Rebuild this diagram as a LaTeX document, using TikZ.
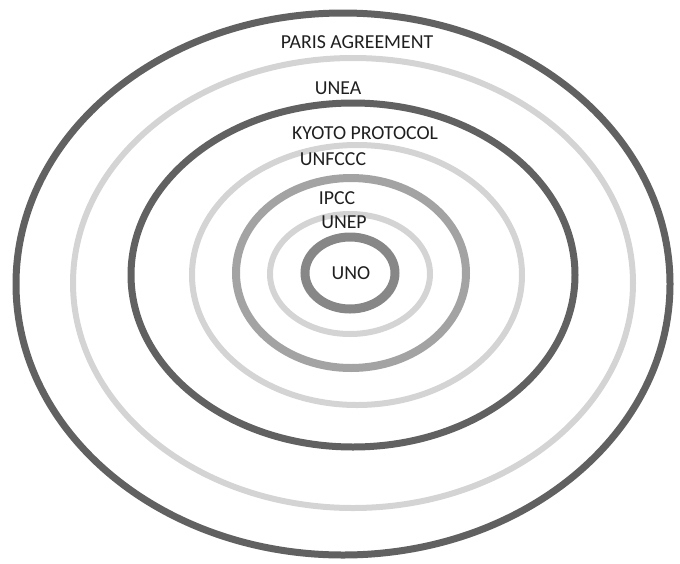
\documentclass[tikz,border=0pt]{standalone}
\usepackage{fontspec}
\setmainfont{Carlito}
\begin{document}
\begin{tikzpicture}[x=0.5pt,y=-0.5pt,
	darkring/.style={line width=3.5pt,draw=black!62},
	lightring/.style={line width=3pt,draw=black!17},
	midring/.style={line width=4pt,draw=black!36},
	unoring/.style={line width=4.5pt,draw=black!47},
	lbl/.style={font=\fontsize{9.9}{11}\selectfont,text=black!88,inner sep=0pt}]
	\useasboundingbox (0,0) rectangle (680,563);
		\draw[darkring] (343,284) ellipse [x radius=327, y radius=271];
		\draw[lightring] (353,283) ellipse [x radius=280, y radius=225];
		\draw[darkring] (353,275) ellipse [x radius=222, y radius=172];
		\draw[lightring] (357,275) ellipse [x radius=165, y radius=130];
		\draw[midring] (351,273) ellipse [x radius=115, y radius=95];
		\draw[lightring] (350,274) ellipse [x radius=80, y radius=60];
		\draw[unoring] (350,273) ellipse [x radius=45, y radius=36];
			\node[lbl] (paris) at (357,42) {PARIS AGREEMENT};
			\node[lbl] (unea) at (338,88) {UNEA};
			\node[lbl] (kyoto) at (365,133) {KYOTO PROTOCOL};
			\node[lbl] (unfccc) at (333,159) {UNFCCC};
			\node[lbl] (ipcc) at (337,198) {IPCC};
			\node[lbl] (unep) at (344,222) {UNEP};
			\node[lbl] (uno) at (351,273) {UNO};
	\end{tikzpicture}
\end{document}
